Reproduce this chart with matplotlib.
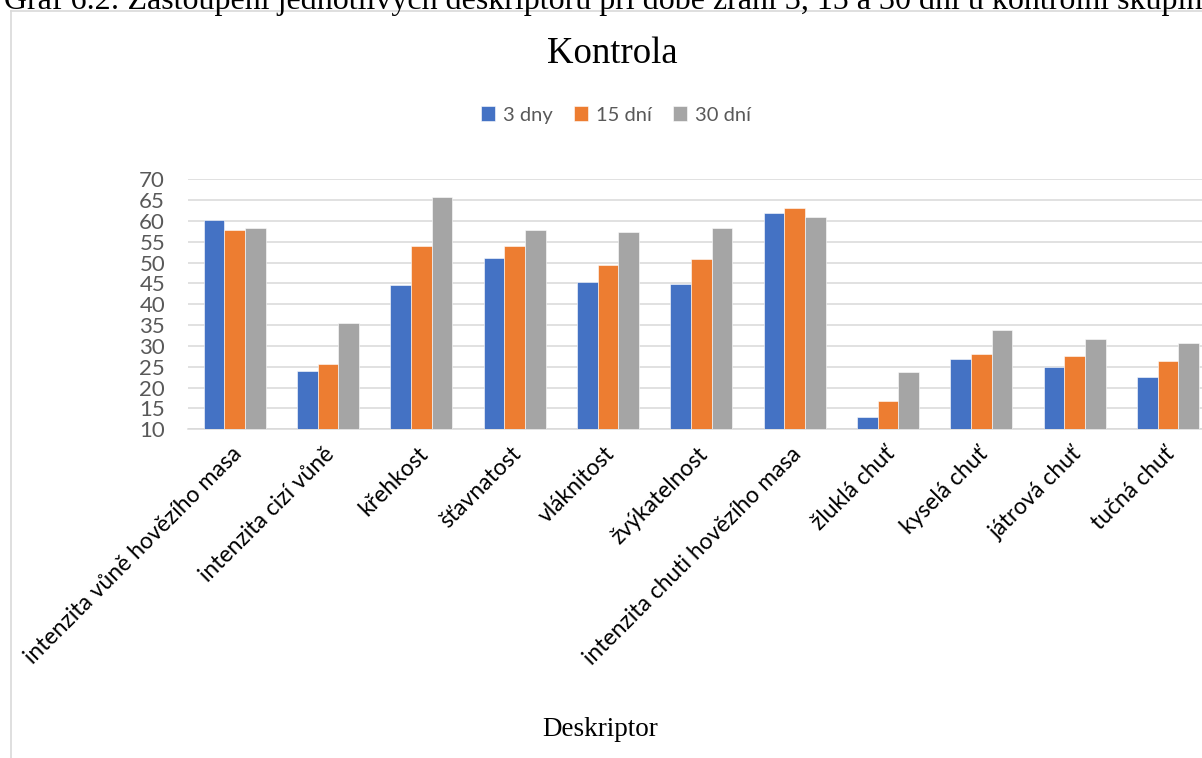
import matplotlib
matplotlib.use("Agg")
import matplotlib.pyplot as plt
import matplotlib.transforms as mtransforms
from matplotlib.lines import Line2D
import numpy as np

categories = ["intenzita vůně hovězího masa", "intenzita cizí vůně", "křehkost",
              "šťavnatost", "vláknitost", "žvýkatelnost", "intenzita chuti hovězího masa",
              "žluklá chuť", "kyselá chuť", "játrová chuť", "tučná chuť"]
series_names = ["3 dny", "15 dní", "30 dní"]
days_3 = [60.2, 24.1, 44.7, 51.1, 45.4, 44.8, 61.9, 13.0, 26.9, 25.0, 22.5]
days_15 = [57.8, 25.7, 54.1, 54.1, 49.4, 50.8, 63.1, 16.7, 28.0, 27.6, 26.3]
days_30 = [58.2, 35.6, 65.8, 57.9, 57.3, 58.2, 60.9, 23.8, 33.8, 31.7, 30.7]
y_ticks = [10, 15, 20, 25, 30, 35, 40, 45, 50, 55, 60, 65, 70]

colors = ["#4472C4", "#ED7D31", "#A5A5A5"]
sans = ["Lato", "DejaVu Sans"]
serif = ["Liberation Serif", "DejaVu Serif"]
W, H = 1202, 758

fig = plt.figure(figsize=(W / 100, H / 100), dpi=100)

# plot area, right side runs off the picture like in the screenshot
ax = fig.add_axes([188 / W, (H - 429.3) / H, 1026.7 / W, 250 / H])

x = np.arange(len(categories))
bw = 0.222
for i, (vals, name) in enumerate(zip([days_3, days_15, days_30], series_names)):
    ax.bar(x + (i - 1) * bw, vals, width=bw, color=colors[i], label=name,
           edgecolor="white", linewidth=0.4, zorder=3)

ax.set_xlim(-0.5, len(categories) - 0.5)
ax.set_ylim(10, 70)
ax.set_yticks(y_ticks)
ax.grid(axis="y", color="#d9d9d9", linewidth=1.1, zorder=0)
for s in ["left", "right", "top"]:
    ax.spines[s].set_visible(False)
ax.spines["bottom"].set_color("#d9d9d9")
ax.spines["bottom"].set_linewidth(1.1)

ax.tick_params(axis="y", length=0, pad=16.5, labelsize=16, labelcolor="#595959")
ax.tick_params(axis="x", length=0, pad=10)
for lab in ax.get_yticklabels():
    lab.set_family(sans)
ax.set_xticks(x)
ax.set_xticklabels(categories, rotation=45, ha="right", va="top",
                   rotation_mode="anchor", fontsize=16.5, family=sans, color="black")
shift = mtransforms.ScaledTranslation(-4 / 100, 0, fig.dpi_scale_trans)
for lab in ax.get_xticklabels():
    lab.set_transform(lab.get_transform() + shift)

fig.legend(loc="center", bbox_to_anchor=(616 / W, 1 - 115 / H), ncol=3, frameon=False,
           handlelength=0.7, handleheight=0.7, handletextpad=0.4, columnspacing=1.05,
           prop={"family": sans, "size": 14.5}, labelcolor="#595959")

fig.text(612 / W, 1 - 54 / H, "Kontrola", ha="center", va="center",
         family=serif, fontsize=26.5)
fig.text(600 / W, 1 - 729 / H, "Deskriptor", ha="center", va="center",
         family=serif, fontsize=19.5)

# caption of the page, cut off at the top as in the screenshot
fig.text(4 / W, 1 - 9 / H,
         "Graf 6.2: Zastoupení jednotlivých deskriptorů při době zrání 3, 15 a 30 dní u kontrolní skupiny",
         ha="left", va="baseline", family=serif, fontsize=23)

# chart frame
fig.add_artist(Line2D([11 / W, 11 / W], [0, 1 - 11 / H], color="#d9d9d9", lw=1.2))
fig.add_artist(Line2D([11 / W, 1], [1 - 11 / H, 1 - 11 / H], color="#d9d9d9", lw=1.2))

fig.savefig("out.png", dpi=100)
